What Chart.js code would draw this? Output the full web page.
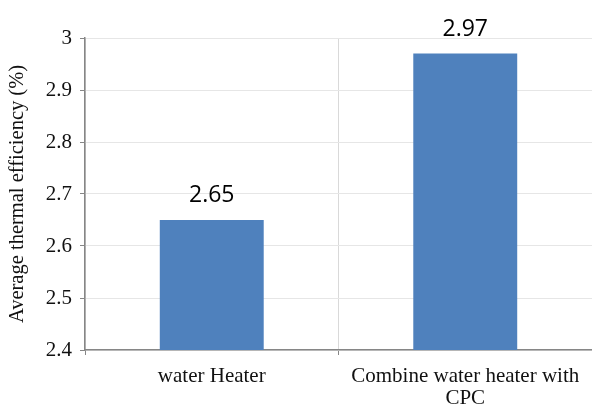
<!DOCTYPE html>
<html>
<head>
<meta charset="utf-8">
<script src="https://cdn.jsdelivr.net/npm/chart.js@4/dist/chart.umd.min.js"></script>
<style>
  html, body { margin: 0; padding: 0; background: #fff; }
  #wrap { width: 592px; height: 410px; }
</style>
</head>
<body>
<div id="wrap"><canvas id="chart"></canvas></div>
<script>
"use strict";

var categories = ["water Heater", ["Combine water heater with", "CPC"]];
var efficiency = [2.65, 2.97];
var yMin = 2.4;
var yMax = 3;
var yStep = 0.1;

// draw the value above each bar
var barLabels = {
  id: "barLabels",
  afterDatasetsDraw: function(chart) {
    var ctx = chart.ctx;
    var meta = chart.getDatasetMeta(0);
    ctx.save();
    ctx.font = "23px 'Open Sans'";
    ctx.fillStyle = "#000";
    ctx.textAlign = "center";
    ctx.textBaseline = "alphabetic";
    meta.data.forEach(function(bar, i) {
      ctx.fillText(efficiency[i].toFixed(2), bar.x, bar.y - 18);
    });
    ctx.restore();
  }
};

var ctx = document.getElementById("chart").getContext("2d");
var myChart = new Chart(ctx, {
  type: "bar",
  data: {
    labels: categories,
    datasets: [{
      data: efficiency,
      backgroundColor: "#4f81bd",
      borderWidth: 0,
      barPercentage: 0.82,
      categoryPercentage: 0.5
    }]
  },
  options: {
    responsive: true,
    maintainAspectRatio: false,
    animation: false,
    layout: { padding: { top: 38, right: 0, left: 0, bottom: 0 } },
    plugins: {
      legend: { display: false },
      tooltip: { enabled: false }
    },
    scales: {
      x: {
        afterFit: function(axis) { axis.height = 60; },
        grid: {
          offset: true,
          color: "#d9d9d9",
          lineWidth: 1,
          tickColor: "#868686",
          tickLength: 5
        },
        border: { color: "#868686", width: 1.5 },
        ticks: {
          color: "#111",
          padding: 11,
          font: { family: "'Liberation Serif'", size: 21, lineHeight: 1.02 },
          maxRotation: 0
        }
      },
      y: {
        min: yMin,
        max: yMax,
        afterFit: function(axis) { axis.width = 85; },
        grid: {
          color: "#e6e6e6",
          lineWidth: 1,
          tickColor: "#868686",
          tickLength: 5
        },
        border: { color: "#868686", width: 1.5 },
        ticks: {
          stepSize: yStep,
          color: "#111",
          padding: 8,
          font: { family: "'Liberation Serif'", size: 21 },
          callback: function(v) { return String(Number(v.toFixed(1))); }
        },
        title: {
          display: true,
          text: "Average thermal efficiency (%)",
          color: "#111",
          padding: { top: 5, bottom: 0 },
          font: { family: "'Liberation Serif'", size: 20.5 }
        }
      }
    }
  },
  plugins: [barLabels]
});
</script>
</body>
</html>
